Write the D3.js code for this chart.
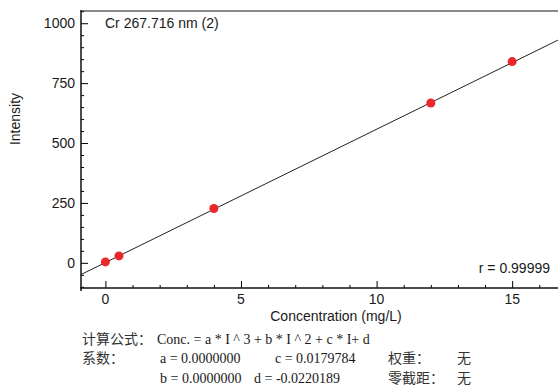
<!DOCTYPE html>
<html>
<head>
<meta charset="utf-8">
<script src="https://cdn.jsdelivr.net/npm/d3@7"></script>
<style>
  body { margin: 0; background: #fff; }
  text { fill: #1a1a1a; }
</style>
</head>
<body>
<svg id="chart" width="558" height="386"></svg>
<script>
// Data
const title = 'Cr 267.716 nm (2)'
const concentrations = [0, 0.5, 4, 12, 15]
const intensities = [4, 29, 227, 667, 840]
const xTicks = [0, 5, 10, 15]
const yTicks = [0, 250, 500, 750, 1000]
const coefA = 0.0000000
const coefB = 0.0000000
const coefC = 0.0179784
const coefD = -0.0220189
const rValue = '0.99999'

const svg = d3.select('#chart')

// Scales
const xScale = d3.scaleLinear().domain([-0.9, 16.69]).range([81, 558])
const yScale = d3.scaleLinear().domain([-105, 1051]).range([288, 11])

// Frame top (gray)
svg.append('line')
  .attr('x1', 81).attr('x2', 558)
  .attr('y1', 11).attr('y2', 11)
  .attr('stroke', '#8a8a8a').attr('stroke-width', 2)

// Y axis (ticks pointing inward)
const yAxis = d3.axisRight(yScale).tickValues(yTicks).tickSize(7).tickFormat('')
const yMinor = d3.axisRight(yScale).tickValues(d3.range(-100, 1051, 50).filter(v => v % 250 !== 0)).tickSize(3).tickFormat('')
svg.append('g').attr('transform', 'translate(81,0)').call(yAxis)
  .call(g => g.select('.domain').remove())
svg.append('g').attr('transform', 'translate(81,0)').call(yMinor)
  .call(g => g.select('.domain').remove())
svg.append('line')
  .attr('x1', 81).attr('x2', 81).attr('y1', 10).attr('y2', 291)
  .attr('stroke', '#111').attr('stroke-width', 1.5)
svg.selectAll('.ylab')
  .data(yTicks)
  .enter()
  .append('text')
  .attr('x', 75)
  .attr('y', d => yScale(d) + 5)
  .attr('text-anchor', 'end')
  .style('font', '14px "Liberation Sans", Arial, sans-serif')
  .text(d => d)

// X axis (ticks pointing inward)
const xAxis = d3.axisTop(xScale).tickValues(xTicks).tickSize(7).tickFormat('')
const xMinor = d3.axisTop(xScale).tickValues(d3.range(1, 17).filter(v => v % 5 !== 0)).tickSize(3).tickFormat('')
svg.append('g').attr('transform', 'translate(0,288)').call(xAxis)
  .call(g => g.select('.domain').remove())
svg.append('g').attr('transform', 'translate(0,288)').call(xMinor)
  .call(g => g.select('.domain').remove())
svg.append('line')
  .attr('x1', 80).attr('x2', 558).attr('y1', 288).attr('y2', 288)
  .attr('stroke', '#111').attr('stroke-width', 1.5)
svg.selectAll('.xlab')
  .data(xTicks)
  .enter()
  .append('text')
  .attr('x', d => xScale(d))
  .attr('y', 304)
  .attr('text-anchor', 'middle')
  .style('font', '14px "Liberation Sans", Arial, sans-serif')
  .text(d => d)

// Axis titles
svg.append('text')
  .attr('transform', 'translate(20,119) rotate(-90)')
  .attr('text-anchor', 'middle')
  .style('font', '14px "Liberation Sans", Arial, sans-serif')
  .text('Intensity')
svg.append('text')
  .attr('x', 336).attr('y', 321)
  .attr('text-anchor', 'middle')
  .style('font', '14px "Liberation Sans", Arial, sans-serif')
  .text('Concentration (mg/L)')

// Calibration line: Conc = c*I + d  ->  I = (Conc - d) / c
const fitLine = d3.line()
  .x(d => xScale(d))
  .y(d => yScale((d - coefD) / coefC))
svg.append('path')
  .datum(xScale.domain())
  .attr('d', fitLine)
  .attr('fill', 'none')
  .attr('stroke', '#222')
  .attr('stroke-width', 1)

// Points
svg.selectAll('.pt')
  .data(concentrations)
  .enter()
  .append('circle')
  .attr('class', 'pt')
  .attr('cx', d => xScale(d))
  .attr('cy', (d, i) => yScale(intensities[i]))
  .attr('r', 4.5)
  .attr('fill', '#e8282a')

// Labels inside plot
svg.append('text')
  .attr('x', 105).attr('y', 28)
  .style('font', '14px "Liberation Sans", Arial, sans-serif')
  .text(title)
svg.append('text')
  .attr('x', 550).attr('y', 273)
  .attr('text-anchor', 'end')
  .style('font', '14px "Liberation Sans", Arial, sans-serif')
  .text('r = ' + rValue)

// Formula block
const cjk = '14px "Noto Sans CJK SC", sans-serif'
const serif = '14px "Liberation Serif", "Times New Roman", serif'
const fmt = v => v.toFixed(7)
const rows = [
  { y: 344, items: [[82, cjk, '计算公式：'], [157, serif, 'Conc. = a * I ^ 3 + b * I ^ 2 + c * I+ d']] },
  { y: 363, items: [[82, cjk, '系数：'], [160, serif, 'a = ' + fmt(coefA)], [275, serif, 'c = ' + fmt(coefC)], [388, cjk, '权重：'], [457, cjk, '无']] },
  { y: 383, items: [[160, serif, 'b = ' + fmt(coefB)], [254, serif, 'd = ' + fmt(coefD)], [388, cjk, '零截距：'], [457, cjk, '无']] }
]
rows.forEach(r => {
  r.items.forEach(([x, font, t]) => {
    svg.append('text')
      .attr('x', x).attr('y', r.y)
      .style('font', font)
      .style('fill', font === cjk ? '#333' : '#1a1a1a')
      .text(t)
  })
})
</script>
</body>
</html>
